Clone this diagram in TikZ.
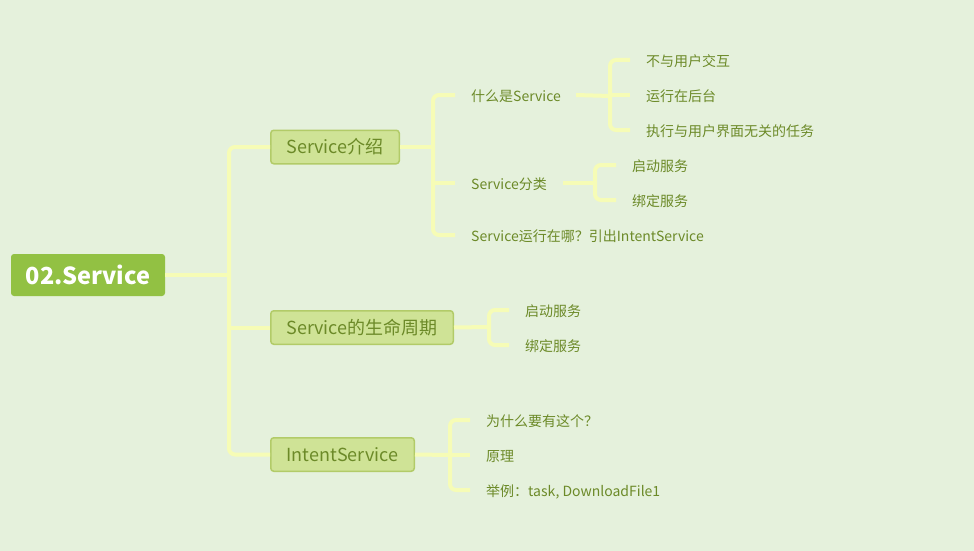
\documentclass[tikz,border=0pt]{standalone}
\usepackage{fontspec}
\setmainfont{Noto Sans CJK SC}
\definecolor{bgc}{RGB}{229,241,220}
\definecolor{connc}{RGB}{246,252,182}
\definecolor{rootc}{RGB}{146,193,67}
\definecolor{brfill}{RGB}{207,227,150}
\definecolor{brdraw}{RGB}{178,203,104}
\definecolor{txtc}{RGB}{108,138,40}
\begin{document}
\begin{tikzpicture}[x=1pt,y=-1pt,
  conn/.style={draw=connc, line width=4pt},
  trunk/.style={conn, rounded corners=6pt},
  rootbox/.style={fill=rootc, rounded corners=3pt, minimum width=154pt, minimum height=42pt, inner sep=0pt, text=white, font=\fontsize{23.5}{23.5}\bfseries\selectfont},
  branch/.style={fill=brfill, draw=brdraw, line width=1.5pt, rounded corners=3pt, minimum height=33.5pt, inner sep=0pt, text=txtc, font=\fontsize{18}{18}\selectfont},
  leaf/.style={anchor=west, inner sep=0pt, text=txtc, font=\fontsize{14}{14}\selectfont, text height=13.5pt, text depth=0.5pt}]
\fill[bgc] (0,0) rectangle (974,551);
\useasboundingbox (0,0) rectangle (974,551);

% trunk coordinates
\coordinate (t0) at (229,275);
\coordinate (t1) at (433,147);
\coordinate (t2) at (489,327);
\coordinate (t3) at (450,455);
\coordinate (tw) at (610,96);
\coordinate (tc) at (595,183);

% nodes
\node[rootbox] (root) at (88,275) {02.Service};
\node[branch, minimum width=128.5pt] (b1) at (335,147) {Service介绍};
\node[branch, minimum width=182.5pt] (b2) at (362,327.5) {Service的生命周期};
\node[branch, minimum width=143.5pt] (b3) at (342.5,454.5) {IntentService};

\node[leaf] (what) at (471,95) {什么是Service};
\node[leaf] (cls) at (471,183) {Service分类};
\node[leaf] (where) at (471,235) {Service运行在哪？引出IntentService};

\node[leaf] (w1) at (646,60) {不与用户交互};
\node[leaf] (w2) at (646,95) {运行在后台};
\node[leaf] (w3) at (646,130) {执行与用户界面无关的任务};

\node[leaf] (c1) at (632,165) {启动服务};
\node[leaf] (c2) at (632,200) {绑定服务};

\node[leaf] (l1) at (525,310) {启动服务};
\node[leaf] (l2) at (525,345) {绑定服务};

\node[leaf] (i1) at (486,420) {为什么要有这个？};
\node[leaf] (i2) at (486,455) {原理};
\node[leaf] (i3) at (486,490) {举例：task, DownloadFile1};

% root connectors
\draw[conn] (root.east) -- (t0);
\draw[trunk] (b1.west) -| (t0) |- (b3.west);
\draw[conn] (t0 |- b2.west) -- (b2.west);

% Service介绍
\draw[conn] (b1.east) -- (t1);
\draw[trunk] ([xshift=-16pt]what.west) -| (t1) |- ([xshift=-16pt]where.west);
\draw[conn] (t1 |- cls.west) -- ([xshift=-16pt]cls.west);

% 什么是Service
\draw[conn] ([xshift=15pt]what.east) -- (tw);
\draw[trunk] ([xshift=-16pt]w1.west) -| (tw) |- ([xshift=-16pt]w3.west);
\draw[conn] (tw |- w2.west) -- ([xshift=-16pt]w2.west);

% Service分类
\draw[conn] ([xshift=16pt]cls.east) -- (tc);
\draw[trunk] ([xshift=-16pt]c1.west) -| (tc) |- ([xshift=-16pt]c2.west);

% 生命周期
\draw[conn] (b2.east) -- (t2);
\draw[trunk] ([xshift=-16pt]l1.west) -| (t2) |- ([xshift=-16pt]l2.west);

% IntentService
\draw[conn] (b3.east) -- (t3);
\draw[trunk] ([xshift=-16pt]i1.west) -| (t3) |- ([xshift=-16pt]i3.west);
\draw[conn] (t3 |- i2.west) -- ([xshift=-16pt]i2.west);
\end{tikzpicture}
\end{document}
